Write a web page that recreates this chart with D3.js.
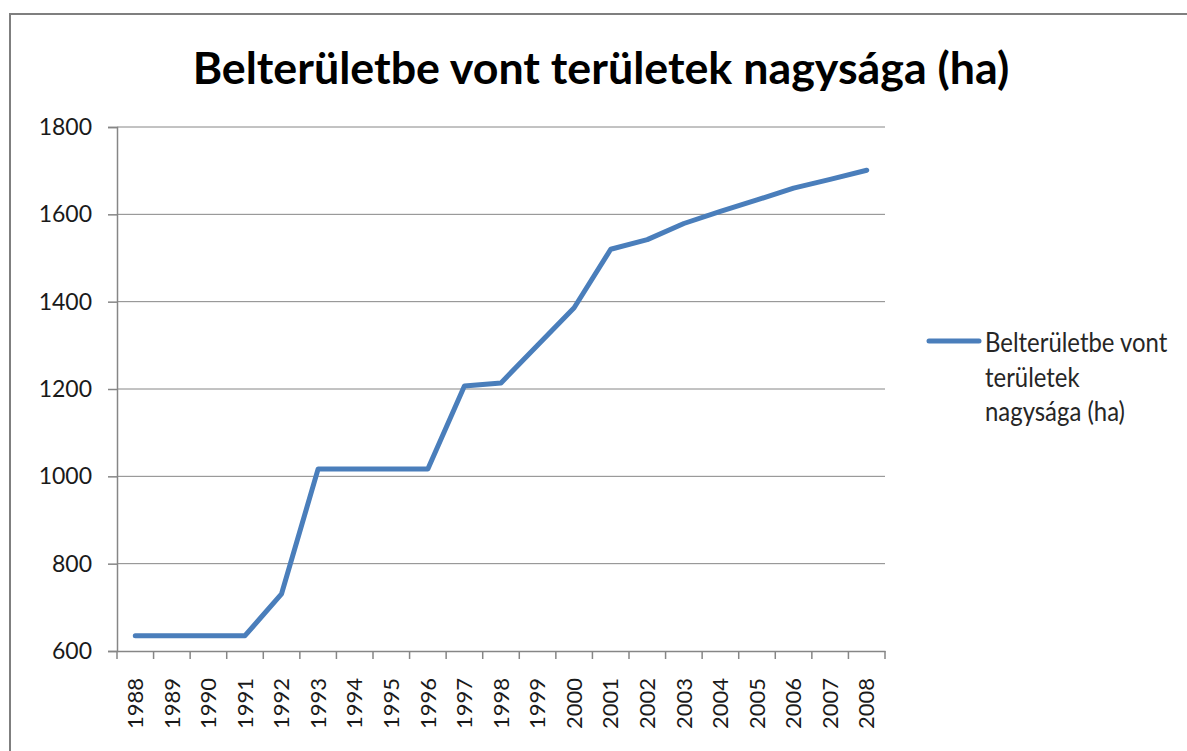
<!DOCTYPE html>
<html><head><meta charset="utf-8">
<script src="https://cdn.jsdelivr.net/npm/d3@7"></script>
<style>body{margin:0;background:#fff}svg{display:block}</style>
</head><body>
<svg id="c" width="1187" height="751"></svg>
<script>
const titleText = "Belterületbe vont területek nagysága (ha)";
const years = ["1988","1989","1990","1991","1992","1993","1994","1995","1996","1997","1998","1999","2000","2001","2002","2003","2004","2005","2006","2007","2008"];
const values = [635,635,635,635,731,1017,1017,1017,1017,1207,1214,1300,1386,1520,1542,1579,1607,1633,1660,1680,1701];
const yTicks = [600,800,1000,1200,1400,1600,1800];
const legendLines = ["Belterületbe vont","területek","nagysága (ha)"];

const svg = d3.select("#c");
const font = "Lato, 'Open Sans', sans-serif";
const M = {l:117, r:885, t:127, b:651};

svg.append("rect").attr("x",10).attr("y",14).attr("width",1190).attr("height",760)
  .attr("fill","#fff").attr("stroke","#7f7f7f").attr("stroke-width",2);

const x = d3.scaleBand().domain(years).range([M.l, M.r]);
const y = d3.scaleLinear().domain([600,1800]).range([M.b, M.t]);

// gridlines
svg.append("g").selectAll("line").data(yTicks.slice(1)).join("line")
  .attr("x1",M.l).attr("x2",M.r).attr("y1",d=>y(d)).attr("y2",d=>y(d))
  .attr("stroke","#868686").attr("stroke-width",1);

// y axis
const ya = svg.append("g").attr("transform",`translate(${M.l},0)`)
  .call(d3.axisLeft(y).tickValues(yTicks).tickSize(9).tickPadding(16).tickFormat(d3.format("d")));
ya.select(".domain").attr("stroke","#868686").attr("stroke-width",1.5);
ya.selectAll(".tick line").attr("stroke","#868686").attr("stroke-width",1.5);
ya.selectAll("text").attr("font-family",font).attr("font-size",23).attr("fill","#1a1a1a");

// x axis
const xa = svg.append("g").attr("transform",`translate(0,${M.b})`)
  .call(d3.axisBottom(x).tickSize(0).tickPadding(0));
xa.select(".domain").attr("stroke","#868686").attr("stroke-width",1.5);
xa.selectAll(".tick text").attr("font-family",font).attr("font-size",22).attr("fill","#1a1a1a")
  .attr("transform","translate(0,27) rotate(-90)").attr("text-anchor","end").attr("dy","0.35em").attr("x",0).attr("y",0);
// category boundary ticks
const bounds = years.map(d=>x(d)).concat([M.r]);
svg.append("g").selectAll("line").data(bounds).join("line")
  .attr("x1",d=>d).attr("x2",d=>d).attr("y1",M.b).attr("y2",M.b+8)
  .attr("stroke","#868686").attr("stroke-width",1.5);

// line
const line = d3.line().x((d,i)=>x(years[i])+x.bandwidth()/2).y(d=>y(d));
svg.append("path").datum(values).attr("d",line).attr("fill","none")
  .attr("stroke","#4a7ebb").attr("stroke-width",5).attr("stroke-linejoin","round").attr("stroke-linecap","round");

// title
const t = svg.append("text").attr("x",601).attr("y",84).attr("text-anchor","middle")
  .attr("font-family",font).attr("font-weight","bold").attr("font-size",40).attr("fill","#000").text(titleText);
const w = t.node().getComputedTextLength();
t.attr("font-size", 40*817/w);

// legend
svg.append("line").attr("x1",929).attr("x2",979).attr("y1",341).attr("y2",341)
  .attr("stroke","#4a7ebb").attr("stroke-width",5).attr("stroke-linecap","round");
svg.append("g").selectAll("text").data(legendLines).join("text")
  .attr("transform",(d,i)=>`translate(985,${352+i*34.5}) scale(0.92,1)`)
  .attr("font-family",font).attr("font-size",26).attr("fill","#262626").text(d=>d);
</script>
</body></html>
